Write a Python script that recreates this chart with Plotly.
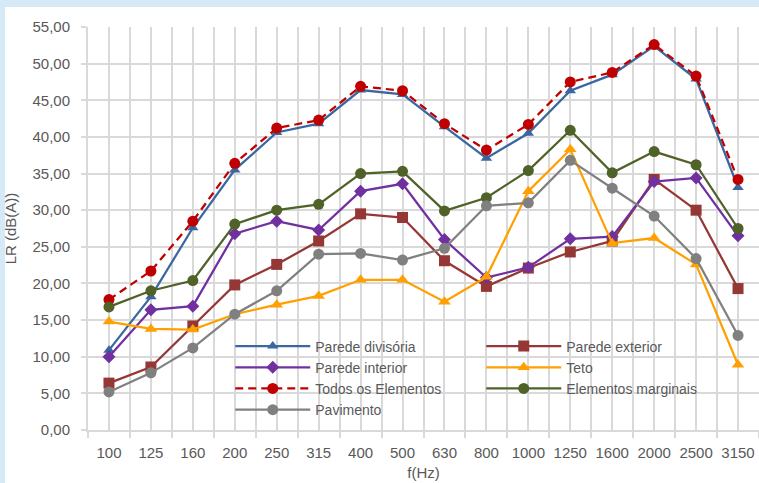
import plotly.graph_objects as go

freqs = ["100", "125", "160", "200", "250", "315", "400", "500", "630", "800",
         "1000", "1250", "1600", "2000", "2500", "3150"]

parede_divisoria = [10.9, 18.2, 27.6, 35.5, 40.6, 41.8, 46.4, 45.8, 41.4, 37.1,
                    40.5, 46.3, 48.5, 52.4, 47.9, 33.1]
parede_exterior = [6.4, 8.6, 14.2, 19.8, 22.6, 25.8, 29.5, 29.0, 23.1, 19.6,
                   22.1, 24.3, 25.8, 34.2, 30.0, 19.3]
parede_interior = [10.0, 16.4, 16.9, 26.8, 28.5, 27.3, 32.6, 33.6, 26.0, 20.8,
                   22.2, 26.1, 26.4, 33.9, 34.4, 26.5]
teto = [14.8, 13.8, 13.7, 15.8, 17.1, 18.3, 20.5, 20.5, 17.5, 20.9,
        32.6, 38.3, 25.5, 26.2, 22.6, 8.9]
todos_elementos = [17.8, 21.7, 28.5, 36.4, 41.2, 42.3, 46.9, 46.3, 41.8, 38.2,
                   41.7, 47.5, 48.8, 52.6, 48.3, 34.2]
elementos_marginais = [16.8, 19.0, 20.4, 28.1, 30.0, 30.8, 35.0, 35.3, 29.9, 31.7,
                       35.4, 40.9, 35.1, 38.0, 36.2, 27.5]
pavimento = [5.2, 7.8, 11.2, 15.8, 19.0, 24.0, 24.1, 23.2, 24.8, 30.6,
             31.0, 36.8, 33.0, 29.2, 23.4, 12.9]

y_ticks = [0, 5, 10, 15, 20, 25, 30, 35, 40, 45, 50, 55]

idx = list(range(len(freqs)))
bounds = [i - 0.5 for i in range(len(freqs) + 1)]

series = [
    ("Parede divisória", parede_divisoria, "#3B67A0", "triangle-up", 10, "solid"),
    ("Parede exterior", parede_exterior, "#953735", "square", 11, "solid"),
    ("Parede interior", parede_interior, "#7030A0", "diamond", 10, "solid"),
    ("Teto", teto, "#FFA000", "triangle-up", 11, "solid"),
    ("Todos os Elementos", todos_elementos, "#C00000", "circle", 11, "8px,5px"),
    ("Elementos marginais", elementos_marginais, "#4F6228", "circle", 11, "solid"),
    ("Pavimento", pavimento, "#808080", "circle", 11, "solid"),
]

fig = go.Figure()
for name, vals, color, sym, size, dash in series:
    fig.add_trace(go.Scatter(
        x=idx, y=vals, name=name, mode="lines+markers",
        line=dict(color=color, width=2.25, dash=dash),
        marker=dict(symbol=sym, size=size, color=color),
    ))

grid = "#D9D9D9"
font_fam = "Liberation Sans, Arial, sans-serif"

fig.update_layout(
    width=759, height=483, autosize=False,
    margin=dict(l=88, r=0, t=27, b=53, autoexpand=False),
    paper_bgcolor="#D5E9F6", plot_bgcolor="white",
    separators=",.",
    font=dict(family=font_fam, size=15, color="#595959"),
    showlegend=True,
    legend=dict(
        orientation="h", x=0.212, xanchor="left", y=0.247, yanchor="top",
        bgcolor="rgba(0,0,0,0)", borderwidth=0, entrywidth=161,
        entrywidthmode="pixels", itemwidth=75,
        font=dict(size=14, color="#595959"), traceorder="normal",
        tracegroupgap=0,
    ),
    shapes=[
        dict(type="rect", xref="paper", yref="paper",
             x0=(5 - 88) / 671, x1=1.01, y0=-0.14, y1=(430 - 7) / 403,
             fillcolor="white", line=dict(width=0), layer="below"),
        dict(type="rect", xref="paper", yref="paper",
             x0=(230 - 88) / 671, x1=(716 - 88) / 671,
             y0=(430 - 420) / 403, y1=(430 - 334) / 403,
             fillcolor="white", line=dict(width=0), layer="between"),
    ],
)

fig.update_xaxes(
    range=[-0.5, 15.5], tickmode="array", tickvals=idx, ticktext=freqs,
    showgrid=True, gridcolor=grid, gridwidth=2, ticks="", zeroline=False,
    showline=True, linecolor=grid, linewidth=2,
    ticklabelstandoff=8,
    minor=dict(tickmode="array", tickvals=bounds, showgrid=True, gridcolor=grid,
               gridwidth=2, ticks="outside", ticklen=6, tickcolor=grid, tickwidth=2),
    title=dict(text="f(Hz)", font=dict(size=15, color="#595959"), standoff=7),
    tickfont=dict(size=15, color="#595959"),
)
fig.update_yaxes(
    range=[0, 55], tickmode="array", tickvals=y_ticks, tickformat=".2f",
    showgrid=True, gridcolor=grid, gridwidth=2, zeroline=False,
    showline=True, linecolor=grid, linewidth=2,
    ticks="outside", ticklen=5, tickcolor=grid, tickwidth=2,
    ticklabelstandoff=8,
    title=dict(text="LR (dB(A))", font=dict(size=15, color="#595959"), standoff=12),
    tickfont=dict(size=15, color="#595959"),
)

fig.write_html("out.html", config={"displayModeBar": False},
               post_script="document.body.style.margin='0';")
